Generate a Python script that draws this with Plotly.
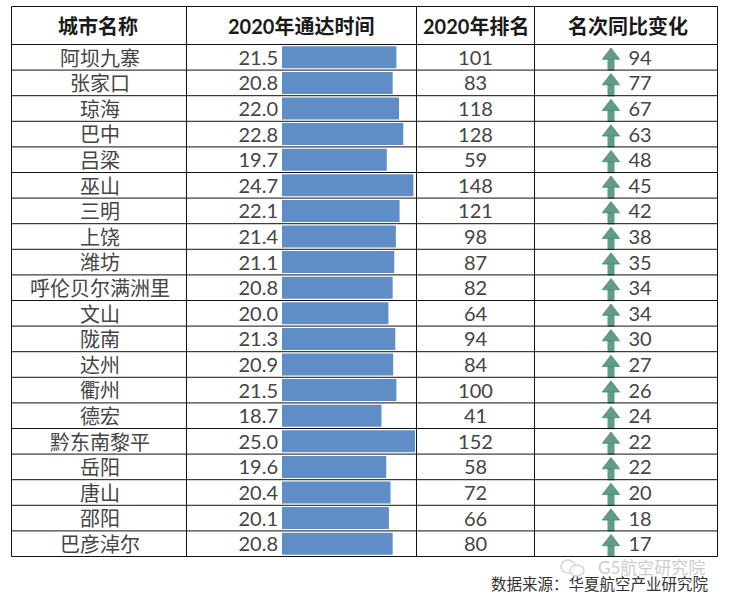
import plotly.graph_objects as go

cities = ["阿坝九寨","张家口","琼海","巴中","吕梁","巫山","三明","上饶","潍坊","呼伦贝尔满洲里",
          "文山","陇南","达州","衢州","德宏","黔东南黎平","岳阳","唐山","邵阳","巴彦淖尔"]
times = [21.5,20.8,22.0,22.8,19.7,24.7,22.1,21.4,21.1,20.8,20.0,21.3,20.9,21.5,18.7,25.0,19.6,20.4,20.1,20.8]
ranks = [101,83,118,128,59,148,121,98,87,82,64,94,84,100,41,152,58,72,66,80]
changes = [94,77,67,63,48,45,42,38,35,34,34,30,27,26,24,22,22,20,18,17]
headers = ["城市名称","2020年通达时间","2020年排名","名次同比变化"]

W, H = 729, 600
L, R, T, HB, B = 11.5, 717.5, 6.5, 44.5, 556.5
COLS = [186.5, 416.5, 534.5]
BAR_X0, BAR_X1 = 282, 415
FONT = "Lato, 'Noto Sans CJK SC', sans-serif"
CJK = "'Noto Sans CJK SC', sans-serif"
TXT = "#444444"
n = len(cities)
idx = list(range(n))
px = lambda x: x / W
py = lambda y: 1 - y / H

fig = go.Figure()
fig.add_trace(go.Bar(x=times, y=cities, orientation="h", marker=dict(color="#5f8ec6", line_width=0),
                     width=0.86, xaxis="x", yaxis="y", hoverinfo="skip"))
def col_text(xpos, vals, pos="middle center", size=20, font=FONT, dy=0.1):
    fig.add_trace(go.Scatter(x=[xpos]*n, y=[i + dy for i in idx], mode="text", text=[str(v) for v in vals],
                             textposition=pos, textfont=dict(family=font, size=size, color=TXT),
                             xaxis="x2", yaxis="y2", hoverinfo="skip"))
col_text(100, cities, size=20, font=CJK, dy=0.13)
col_text(278, [f"{t:.1f}" for t in times], pos="middle left")
col_text(475.5, ranks)
col_text(640, changes)
# arrows: stem + head, on the numeric overlay axis
fig.add_trace(go.Scatter(x=[611]*n, y=[i + 0.2 for i in idx], mode="markers",
                         marker=dict(symbol="line-ns", size=12, line=dict(width=7, color="#5f9d87")),
                         xaxis="x2", yaxis="y2", hoverinfo="skip"))
fig.add_trace(go.Scatter(x=[611]*n, y=[i - 0.07 for i in idx], mode="markers",
                         marker=dict(symbol="triangle-up", size=15, color="#5f9d87",
                                     line=dict(width=0.8, color="#4d8a75")),
                         xaxis="x2", yaxis="y2", hoverinfo="skip"))

shapes = []
line = dict(color="#111111", width=1)
for i in range(n + 1):
    y = HB + (B - HB) * i / n
    shapes.append(dict(type="line", xref="paper", yref="paper", x0=px(L), x1=px(R), y0=py(y), y1=py(y), line=line, layer="above"))
shapes.append(dict(type="line", xref="paper", yref="paper", x0=px(L), x1=px(R), y0=py(T), y1=py(T), line=line))
for x in [L] + COLS + [R]:
    shapes.append(dict(type="line", xref="paper", yref="paper", x0=px(x), x1=px(x), y0=py(T), y1=py(B), line=line))
# faint watermark icon
for x0, y0, x1, y1 in [(561, 560, 575, 573), (570, 565, 584, 576)]:
    shapes.append(dict(type="circle", xref="paper", yref="paper", x0=px(x0), x1=px(x1), y0=py(y1), y1=py(y0),
                       line=dict(color="#d6d6d6", width=1.5), fillcolor="rgba(255,255,255,0.6)"))

ann = []
for h, cx in zip(headers, [98, 301, 475.5, 627.5]):
    ann.append(dict(text=f"<b>{h}</b>", x=px(cx), y=py(26), xref="paper", yref="paper", showarrow=False,
                    xanchor="center", yanchor="middle", font=dict(family=FONT, size=20, color="#1a1a1a")))
ann.append(dict(text="G5航空研究院", x=px(707), y=py(567), xref="paper", yref="paper", xanchor="right", yanchor="middle", showarrow=False,
                font=dict(family=FONT, size=17, color="#cdcdcd")))
ann.append(dict(text="数据来源：华夏航空产业研究院", x=px(710), y=py(583), xref="paper", yref="paper", xanchor="right", yanchor="middle", showarrow=False,
                font=dict(family=CJK, size=15.5, color="#333333")))

fig.update_layout(
    width=W, height=H, margin=dict(l=0, r=0, t=0, b=0), showlegend=False,
    paper_bgcolor="white", plot_bgcolor="rgba(0,0,0,0)", shapes=shapes, annotations=ann,
    xaxis=dict(domain=[px(BAR_X0), px(BAR_X1)], range=[0, 25], visible=False, fixedrange=True),
    yaxis=dict(domain=[py(B), py(HB)], type="category", categoryorder="array", categoryarray=cities,
               range=[n - 0.5, -0.5], visible=False),
    xaxis2=dict(domain=[0, 1], range=[0, W], visible=False, anchor="y2"),
    yaxis2=dict(domain=[py(B), py(HB)], range=[n - 0.5, -0.5], visible=False, anchor="x2"),
)
fig.write_html("out.html", post_script="document.body.style.margin='0';", config=dict(displayModeBar=False))
